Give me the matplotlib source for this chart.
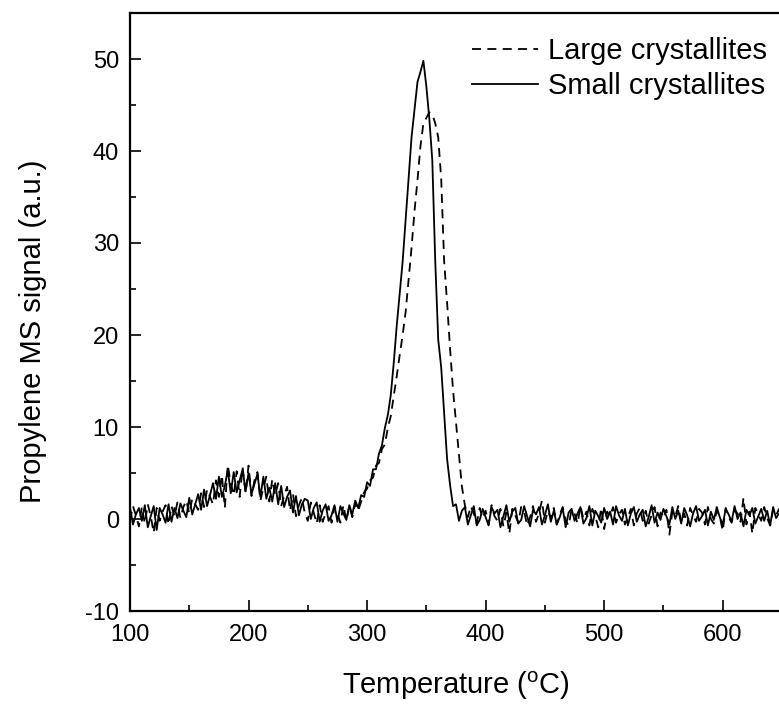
"""TPD propylene MS signal for large vs small crystallites"""
import matplotlib

matplotlib.use("Agg")
import matplotlib.pyplot as plt
import numpy as np
from matplotlib.ticker import MultipleLocator

plt.rcParams["font.family"] = ["Liberation Sans", "DejaVu Sans"]
plt.rcParams["mathtext.fontset"] = "custom"
plt.rcParams["mathtext.rm"] = "Liberation Sans"
plt.rcParams["axes.unicode_minus"] = False

# Temperature grid (every 2.5 C from 100 to 650)
temperature = np.arange(100, 650.1, 2.5)

# Small crystallites (solid), 10 values per 25 C
small = [
    1.3, -0.6, 0.5, 1.2, -0.2, 1.5, -0.9, 0.3, 1.4, -1.2,
    1.2, 0.5, -0.4, 1.6, -0.3, 1.2, 0.1, 1.7, 0.9, 0.2,
    2.3, 0.5, 1.6, 2.7, 1.0, 3.2, 1.4, 2.6, 3.9, 2.2,
    4.6, 2.4, 3.6, 5.3, 2.8, 5.1, 2.9, 4.2, 5.4, 3.0,
    5.0, 2.7, 3.8, 4.9, 2.4, 4.6, 2.2, 3.4, 1.9, 3.9,
    1.6, 3.6, 1.3, 2.4, 3.1, 0.7, 2.5, 0.4, 1.6, 2.2,
    2.0, 0.0, 1.2, 1.8, -0.3, 0.9, 1.6, -0.2, 0.4, 1.5,
    -0.3, 1.4, 0.6, -0.1, 1.5, 0.5, 2.0, 1.2, 2.6, 2.4,
    4.0, 3.6, 5.4, 5.4, 7.1, 8.0, 9.9, 11.3, 13.5, 17.0,
    21.0, 24.5, 28.0, 32.5, 37.0, 41.5, 44.5, 47.5, 48.6, 49.8,
    47.0, 43.5, 39.0, 28.0, 19.5, 16.5, 11.5, 6.5, 3.7, 1.4,
    1.6, -0.2, 0.9, 1.3, -0.6, 0.4, 1.4, -0.7, -0.1, 1.1,
    0.2, -0.7, 1.3, 0.6, 1.0, -0.9, 0.3, 1.5, -0.3, 0.8,
    1.2, -0.5, -0.1, 1.4, 0.3, -0.8, 1.0, 0.5, 1.3, -0.6,
    0.4, 1.6, -0.3, 0.9, -0.6, 0.2, 1.2, -0.9, 0.7, 1.1,
    -0.2, 0.6, 1.3, -0.5, 0.1, 1.4, -0.7, 0.9, 0.3, -0.4,
    1.2, 0.0, 0.8, -0.6, 1.4, 0.4, -0.2, 1.1, -0.7, 0.6,
    1.3, -0.3, 0.5, 1.0, -0.8, 0.2, 1.5, -0.4, 0.7, -0.1,
    1.1, 0.3, -0.6, 1.3, 0.0, 0.9, -0.5, 1.2, 0.4, -0.8,
    0.6, 1.4, -0.2, 0.3, 1.0, -0.7, 0.8, -0.1, 1.3, 0.2,
    -0.6, 1.1, 0.5, -0.3, 1.4, 0.0, 0.7, -0.8, 1.0, 0.4,
    1.2, -0.5, 0.3, 1.1, -0.2, 0.9, -0.7, 1.3, 0.1, 0.6,
    -0.2,
]

# Large crystallites (dashed)
large = [
    -0.2, 1.4, 0.4, -0.8, 1.3, -0.5, 1.6, 0.3, -1.5, 1.2,
    -0.2, 0.8, 1.5, -0.6, 1.4, 0.3, 1.8, 0.1, 1.3, 2.0,
    0.6, 2.2, 1.6, 1.0, 2.8, 1.3, 3.2, 2.4, 1.6, 4.2,
    2.4, 4.8, 1.2, 5.9, 3.8, 2.6, 5.2, 2.4, 5.6, 2.8,
    5.8, 2.5, 4.2, 5.1, 2.0, 3.4, 4.6, 1.9, 4.3, 2.6,
    3.9, 1.4, 2.5, 3.5, 0.9, 2.7, 0.3, 1.5, 2.3, 0.6,
    -0.2, 1.8, 0.7, -0.5, 1.5, -0.3, 0.6, 1.4, -0.4, 1.3,
    0.6, -0.4, 1.5, -0.2, 1.4, 0.2, 1.7, 0.9, 1.9, 2.9,
    3.3, 4.2, 4.5, 5.8, 6.1, 7.6, 8.1, 9.9, 11.2, 13.4,
    15.5, 17.8, 20.0, 22.5, 26.0, 29.5, 33.5, 36.8, 40.5, 43.0,
    43.6, 44.2, 44.0, 43.0, 41.5, 37.0, 28.0, 23.5, 18.5, 14.0,
    10.5, 7.0, 3.5, 1.5, 0.2, 1.4, 0.6, -0.5, 1.2, 0.1,
    0.9, -0.6, 1.5, 0.3, -0.2, 1.1, -0.8, 0.7, -1.6, 1.1,
    0.4, -0.4, 1.3, 0.8, -0.7, 0.2, 1.4, -0.3, 0.6, 2.0,
    -0.4, 0.9, 0.1, 1.2, -0.6, 0.5, 1.3, -0.2, -0.7, 1.0,
    0.6, -0.5, 1.4, 0.0, 0.8, -0.7, 1.1, 0.3, -0.9, 1.2,
    -1.1, 0.8, 0.3, 1.3, -0.4, 0.5, 1.0, -0.6, 0.2, 1.1,
    -0.7, 0.6, 1.2, -0.2, 0.9, -0.5, 0.4, 1.3, -0.8, 0.7,
    0.1, 1.0, -1.7, 0.8, 0.3, 1.4, -0.4, 0.6, -0.7, 1.2,
    0.4, -0.3, 1.1, 0.7, -0.6, 1.3, 0.0, -0.5, 0.9, 0.3,
    -1.3, 1.2, 0.2, -0.4, 1.0, 0.6, -0.3, 2.3, -0.6, 0.8,
    -1.6, 1.2, 0.5, -0.2, 1.3, 0.1, -0.7, 1.0, 0.4, 1.1,
    -0.3,
]

fig = plt.figure(figsize=(7.79, 7.05), dpi=100)
ax = fig.add_axes([130 / 779, 94 / 705, 652 / 779, 598 / 705])

ax.plot(temperature, large, color="black", lw=1.3, ls=(0, (5, 3.5)),
        label="Large crystallites")
ax.plot(temperature, small, color="black", lw=1.3, label="Small crystallites")

ax.set_xlim(100, 650)
ax.set_ylim(-10, 55)
ax.xaxis.set_major_locator(MultipleLocator(100))
ax.xaxis.set_minor_locator(MultipleLocator(50))
ax.yaxis.set_major_locator(MultipleLocator(10))
ax.yaxis.set_minor_locator(MultipleLocator(5))
ax.tick_params(which="both", direction="in", width=1.2, labelsize=17)
ax.tick_params(which="major", length=8)
ax.tick_params(which="minor", length=4.5)
ax.tick_params(axis="x", pad=9.5)
ax.tick_params(axis="y", pad=8)
for side in ("left", "bottom", "top", "right"):
    ax.spines[side].set_linewidth(1.6)

ax.set_xlabel("Temperature ($\\mathrm{^{o}}$C)", fontsize=21, labelpad=17)
ax.set_ylabel("Propylene MS signal (a.u.)", fontsize=21)
ax.yaxis.set_label_coords(-0.127, 0.468)

ax.legend(loc="upper left", bbox_to_anchor=(0.5245, 0.96), frameon=False,
          fontsize=21, handlelength=2.27, handletextpad=0.34,
          labelspacing=0.25, borderpad=0, borderaxespad=0)

fig.savefig("out.png", dpi=100)
